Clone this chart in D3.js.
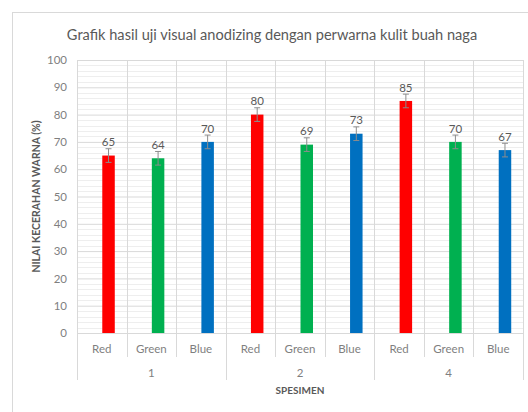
<!DOCTYPE html>
<html lang="id">
<head>
    <meta charset="UTF-8">
    <title>Grafik hasil uji visual anodizing</title>
    <script src="https://d3js.org/d3.v7.min.js"></script>
    <style>
        body{ margin:0; background:white; }
        text{ font-family: Lato, "Open Sans", sans-serif; }
    </style>
</head>
<body>
    <script>
        // data
        const specimens = ["1","2","4"];
        const channels = ["Red","Green","Blue"];
        const redValues = [65,80,85];
        const greenValues = [64,69,70];
        const blueValues = [70,73,67];
        const errValue = 2.5;
        const yTicks = [0,10,20,30,40,50,60,70,80,90,100];
        const minorTicks = d3.range(0,101,2);

        const colors = {Red:"#ff0000", Green:"#00b050", Blue:"#0070c0"};
        const w = 528, h = 412;
        const margin = {left:77, right:5, top:60, bottom:79};

        const series = {Red:redValues, Green:greenValues, Blue:blueValues};
        const rows = [];
        specimens.forEach(function(s,si){
            channels.forEach(function(c){
                rows.push({spec:s, ch:c, key:s+"-"+c, v:series[c][si]});
            });
        });

        const svg = d3.select("body").append("svg").attr("width",w).attr("height",h);

        svg.append("rect").attr("x",12.5).attr("y",12.5).attr("width",540).attr("height",420)
            .attr("fill","white").attr("stroke","#d9d9d9");

        const x = d3.scaleBand().domain(rows.map(d=>d.key)).range([margin.left,w-margin.right]).padding(0);
        const y = d3.scaleLinear().domain([0,100]).range([h-margin.bottom,margin.top]);
        const bw = x.bandwidth();

        // minor grid
        svg.append("g").selectAll("line").data(minorTicks.filter(d=>d%10!==0)).enter().append("line")
            .attr("x1",margin.left).attr("x2",w-margin.right)
            .attr("y1",d=>Math.round(y(d))+0.5).attr("y2",d=>Math.round(y(d))+0.5)
            .attr("stroke","#eeeeee");

        // major grid + y labels
        const yaxis = d3.axisLeft(y).tickValues(yTicks).tickSize(-(w-margin.left-margin.right)).tickPadding(10);
        const gy = svg.append("g").attr("transform","translate("+margin.left+",0)").call(yaxis);
        gy.select(".domain").remove();
        gy.selectAll(".tick line").attr("stroke","#d9d9d9");
        gy.selectAll(".tick text").attr("fill","#7f7f7f").style("font-size","11.5px");

        // vertical grid and category ticks
        const edges = rows.map(d=>x(d.key)).concat([w-margin.right]);
        svg.append("g").selectAll("line").data(edges).enter().append("line")
            .attr("x1",d=>Math.round(d)+0.5).attr("x2",d=>Math.round(d)+0.5)
            .attr("y1",margin.top)
            .attr("y2",(d,i)=> i%3===0 ? 380 : 357)
            .attr("stroke","#d9d9d9");

        // bars
        svg.append("g").selectAll("rect").data(rows).enter().append("rect")
            .attr("x",d=>x(d.key)+bw/2+0.5)
            .attr("width",12.5)
            .attr("y",d=>y(d.v))
            .attr("height",d=>y(0)-y(d.v))
            .attr("fill",d=>colors[d.ch]);

        // error bars
        const eb = svg.append("g").attr("stroke","#8c8c8c").attr("stroke-width",1);
        rows.forEach(function(d){
            const cx = x(d.key)+bw/2+6.75;
            eb.append("line").attr("x1",cx).attr("x2",cx).attr("y1",y(d.v+errValue)).attr("y2",y(d.v-errValue));
            eb.append("line").attr("x1",cx-3).attr("x2",cx+3).attr("y1",y(d.v+errValue)).attr("y2",y(d.v+errValue));
            eb.append("line").attr("x1",cx-3).attr("x2",cx+3).attr("y1",y(d.v-errValue)).attr("y2",y(d.v-errValue));
        });

        // data labels
        svg.append("g").selectAll("text").data(rows).enter().append("text")
            .attr("x",d=>x(d.key)+bw/2+6.75)
            .attr("y",d=>y(d.v+errValue)-2.5)
            .attr("text-anchor","middle")
            .attr("fill","#595959").style("font-size","11.5px")
            .text(d=>d.v);

        // category labels
        svg.append("g").selectAll("text").data(rows).enter().append("text")
            .attr("x",d=>x(d.key)+bw/2)
            .attr("y",353)
            .attr("text-anchor","middle")
            .attr("fill","#7f7f7f").style("font-size","11.5px")
            .text(d=>d.ch);

        svg.append("g").selectAll("text").data(specimens).enter().append("text")
            .attr("x",(d,i)=>x(d+"-Green")+bw/2)
            .attr("y",377)
            .attr("text-anchor","middle")
            .attr("fill","#7f7f7f").style("font-size","11.5px")
            .text(d=>d);

        // titles
        svg.append("text").attr("x",272).attr("y",40).attr("text-anchor","middle")
            .attr("fill","#595959").style("font-size","14.6px")
            .text("Grafik hasil uji visual anodizing dengan perwarna kulit buah naga");

        svg.append("text").attr("x",(margin.left+w-margin.right)/2).attr("y",394).attr("text-anchor","middle")
            .attr("fill","#595959").style("font-size","10px").style("font-weight","bold")
            .text("SPESIMEN");

        svg.append("text").attr("transform","translate(40,"+((y(0)+y(100))/2)+") rotate(-90)")
            .attr("text-anchor","middle")
            .attr("fill","#595959").style("font-size","10.5px").style("font-weight","bold")
            .text("NILAI KECERAHAN WARNA (%)");
    </script>
</body>
</html>
